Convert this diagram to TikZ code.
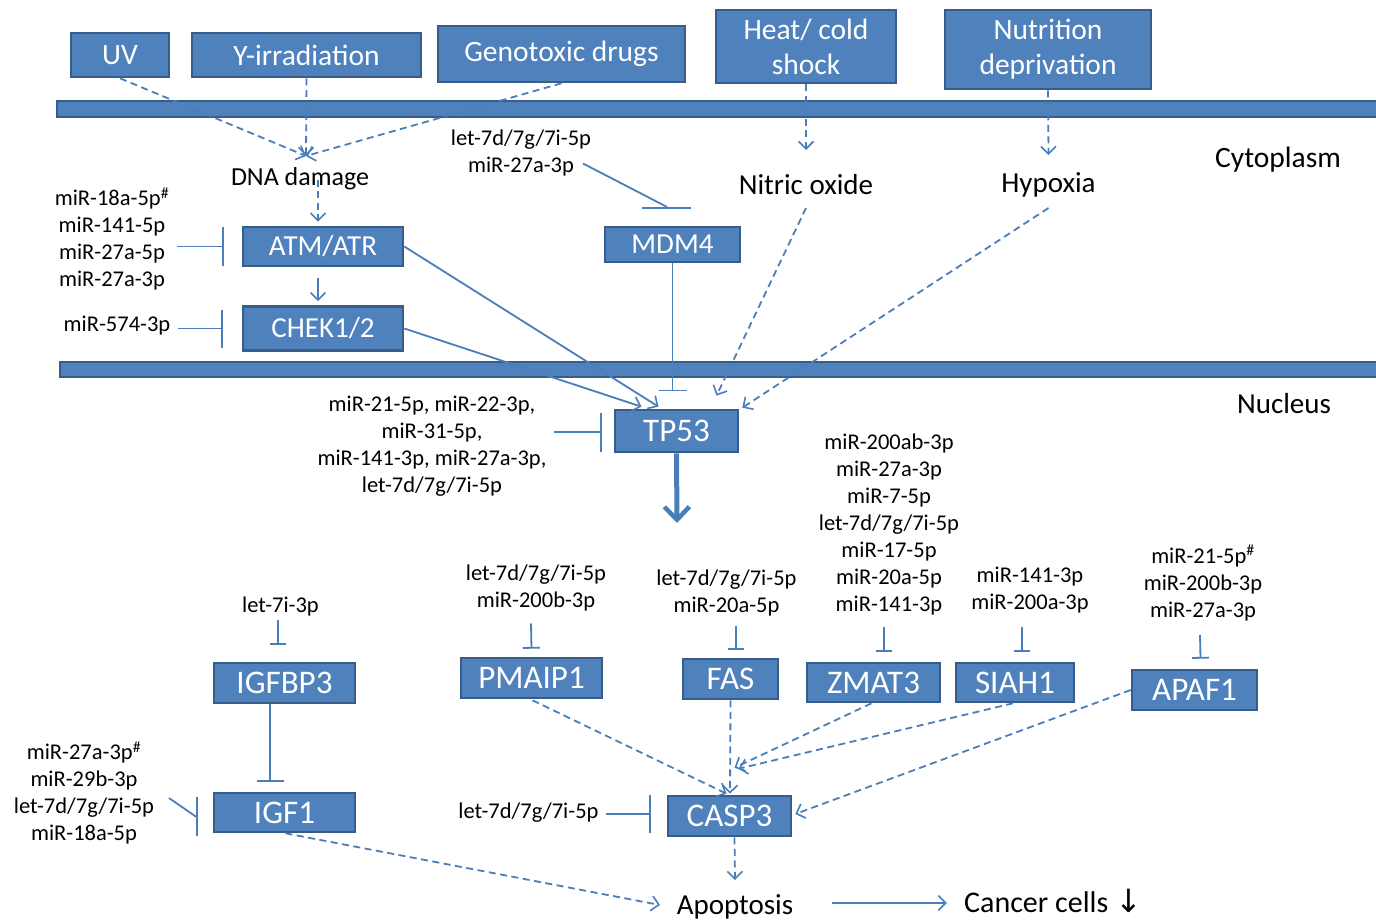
\documentclass[tikz,border=0pt]{standalone}
\usepackage{fontspec}
\setmainfont{Carlito}
\newfontfamily\symfont{DejaVu Sans}
\usetikzlibrary{arrows.meta,calc}
\definecolor{boxfill}{HTML}{4F81BD}
\definecolor{boxedge}{HTML}{385D8A}
\definecolor{link}{HTML}{4A7EBB}
\newcommand\fntTop{\fontsize{29.5}{35}\selectfont}
\newcommand\fntMid{\fontsize{29}{34}\selectfont}
\newcommand\fntGene{\fontsize{33}{38}\selectfont}
\newcommand\fntMir{\fontsize{22.5}{27}\selectfont}
\newcommand\fntLab{\fontsize{29}{34}\selectfont}

\begin{document}
\begin{tikzpicture}[x=1pt,y=-1pt,
  gene/.style={draw=boxedge, fill=boxfill, line width=2.6pt, text=white,
    inner sep=0pt, align=center},
  membrane/.style={draw=boxedge, fill=boxfill, line width=2.4pt},
  lbl/.style={inner sep=1pt, align=center, font=\fntMir},
  big/.style={inner sep=1pt, align=center, font=\fntLab},
  conn/.style={draw=link, line width=1.8pt},
  arr/.style={conn, -{Straight Barb[length=7.5pt,width=15pt,line width=1.6pt]}},
  darr/.style={arr, dash pattern=on 7pt off 4.5pt},
  inh/.style={conn, -{Bar[width=#1,line width=1.8pt]}},
  bigarr/.style={draw=link, line width=5pt, -{Straight Barb[length=13pt,width=25pt,line width=4.5pt]}}
]
\useasboundingbox (0,0) rectangle (1376,920);
\clip (0,0) rectangle (1376,920);

% cell membrane and nuclear envelope
\draw[membrane] (57,101) rectangle (1385,117);
\draw[membrane] (60,362) rectangle (1385,377);

% stress signals
\node[gene, font=\fntTop, minimum width=98pt, minimum height=44pt] (uv) at (120,55) {UV};
\node[gene, font=\fntTop, minimum width=229pt, minimum height=44pt] (yirr) at (306.5,55) {Y-irradiation};
\node[gene, font=\fntTop, minimum width=247pt, minimum height=56pt] (geno) at (561.5,54) {Genotoxic drugs};
\node[gene, font=\fntTop, minimum width=180pt, minimum height=73pt] (heat) at (806,46.5) {Heat/ cold\\shock};
\node[gene, font=\fntTop, minimum width=206pt, minimum height=79pt] (nutr) at (1048,49.5) {Nutrition\\deprivation};

% compartment and state labels
\node[big, font=\fontsize{26}{31}\selectfont] (dna) at (300,179) {DNA damage};
\node[big] (nitric) at (806,185) {Nitric oxide};
\node[big] (hypoxia) at (1048.5,185) {Hypoxia};
\node[big, font=\fontsize{29.5}{35}\selectfont] (cyto) at (1278,160) {Cytoplasm};
\node[big] (nucleus) at (1284,404) {Nucleus};

% upstream kinases and p53 regulators
\node[gene, font=\fntMid, minimum width=160pt, minimum height=39pt] (atm) at (323,246.5) {ATM/ATR};
\node[gene, font=\fntMid, minimum width=135pt, minimum height=35pt] (mdm4) at (672.5,244.5) {MDM4};
\node[gene, font=\fntMid, minimum width=160pt, minimum height=44pt] (chek) at (323,328.5) {CHEK1/2};
\node[gene, font=\fntGene, minimum width=123pt, minimum height=42pt] (tp53) at (676.5,431) {TP53};

% p53 targets
\node[gene, font=\fntGene, minimum width=141pt, minimum height=40pt] (igfbp3) at (284.5,683) {IGFBP3};
\node[gene, font=\fntGene, minimum width=141pt, minimum height=39pt] (igf1) at (284.5,812.5) {IGF1};
\node[gene, font=\fntGene, minimum width=141pt, minimum height=40pt] (pmaip1) at (531.5,678) {PMAIP1};
\node[gene, font=\fntGene, minimum width=95pt, minimum height=40pt] (fas) at (730.5,679) {FAS};
\node[gene, font=\fntGene, minimum width=133pt, minimum height=39pt] (zmat3) at (873.5,682.5) {ZMAT3};
\node[gene, font=\fntGene, minimum width=118pt, minimum height=39pt] (siah1) at (1015,682.5) {SIAH1};
\node[gene, font=\fntGene, minimum width=125pt, minimum height=40pt] (apaf1) at (1194.5,690) {APAF1};
\node[gene, font=\fntGene, minimum width=123pt, minimum height=40pt] (casp3) at (729.5,816) {CASP3};

\node[big] (apoptosis) at (735,907) {Apoptosis};
\node[big, font=\fontsize{30}{35}\selectfont] (cancer) at (1053,901) {Cancer cells {\symfont\fontsize{32}{36}\selectfont ↓}};

% microRNA groups
\node[lbl] (atmmir) at (112,239) {miR-18a-5p\textsuperscript{\#}\\miR-141-5p\\miR-27a-5p\\miR-27a-3p};
\node[lbl] (chekmir) at (117,326) {miR-574-3p};
\node[lbl] (mdmmir) at (521,153) {let-7d/7g/7i-5p\\miR-27a-3p};
\node[lbl] (tpmir) at (432,446) {miR-21-5p, miR-22-3p,\\miR-31-5p,\\miR-141-3p, miR-27a-3p,\\let-7d/7g/7i-5p};
\node[lbl] (igfbpmir) at (280.5,606) {let-7i-3p};
\node[lbl] (pmaipmir) at (536,587.5) {let-7d/7g/7i-5p\\miR-200b-3p};
\node[lbl] (fasmir) at (726.5,592.5) {let-7d/7g/7i-5p\\miR-20a-5p};
\node[lbl] (zmatmir) at (889,524) {miR-200ab-3p\\miR-27a-3p\\miR-7-5p\\let-7d/7g/7i-5p\\miR-17-5p\\miR-20a-5p\\miR-141-3p};
\node[lbl] (siahmir) at (1030,590) {miR-141-3p\\miR-200a-3p};
\node[lbl] (apafmir) at (1203,583) {miR-21-5p\textsuperscript{\#}\\miR-200b-3p\\miR-27a-3p};
\node[lbl] (igf1mir) at (84,793) {miR-27a-3p\textsuperscript{\#}\\miR-29b-3p\\let-7d/7g/7i-5p\\miR-18a-5p};
\node[lbl] (caspmir) at (528.5,813) {let-7d/7g/7i-5p};

% stress to DNA damage, nitric oxide and hypoxia
\coordinate (dmgtip) at (306,156);
\draw[darr] (uv.south) -- (dmgtip);
\draw[darr] (yirr.south) -- (dmgtip);
\draw[darr] (geno.south) -- (dmgtip);
\draw[darr] (heat.south) -- ($(nitric.center)+(0,-35)$);
\draw[darr] (nutr.south) -- ($(hypoxia.center)+(0,-30)$);

% DNA damage response
\draw[darr] ($(dna.center)+(18,1)$) -- ($(atm.north)+(-5,-4)$);
\draw[arr] ($(atm.south)+(-5,11)$) -- ($(chek.north)+(-5,-4)$);
\draw[arr] (atm.east) -- ($(tp53.north)+(-18,-2)$);
\draw[arr] (chek.east) -- ($(tp53.north)+(-35,-2)$);
\draw[darr] ($(nitric.center)+(0,23)$) -- ($(tp53.north)+(40,-13)$);
\draw[darr] ($(hypoxia.center)+(0,23)$) -- ($(tp53.north east)+(3,-1)$);
\draw[inh=28pt] (mdm4.south) -- ($(mdm4.south)+(0,128)$);
\draw[inh=49pt] ($(mdmmir.center)+(62,10.5)$) -- ($(mdm4.north)+(-6,-19)$) -- ($(mdm4.north)+(-6,-17)$);

% microRNA inhibition upstream
\draw[inh=38pt] ($(atmmir.east |- atm.west)+(7,0)$) -- ($(atm.west)+(-18,0)$);
\draw[inh=38pt] ($(chekmir.east |- chek.west)+(7,0)$) -- ($(chek.west)+(-19,0)$);
\draw[inh=39pt] ($(tpmir.east |- tp53.west)+(6,1)$) -- ($(tp53.west)+(-12,1)$);

% p53 output
\coordinate (tpout) at (677,523);
\draw[bigarr] (tp53.south) -- (tpout);

% microRNA inhibition of targets
\draw[inh=16pt] ($(igfbpmir.center)+(-2.5,14)$) -- ($(igfbp3.north)+(-6.5,-17)$);
\draw[inh=27pt] ($(igfbp3.south)+(-14.5,0)$) -- ($(igf1.north)+(-14.5,-10)$);
\draw[inh=39pt] ($(igf1mir.center)+(85,5)$) -- ($(igf1.west)+(-17,4)$) -- ($(igf1.west)+(-15,4)$);
\draw[inh=17pt] ($(pmaipmir.center)+(-5,36)$) -- ($(pmaip1.north)+(0,-8)$);
\draw[inh=16pt] ($(fasmir.center)+(9.5,33)$) -- ($(fas.north)+(5.5,-8)$);
\draw[inh=16pt] ($(zmatmir.center)+(-5,103)$) -- ($(zmat3.north)+(10.5,-10)$);
\draw[inh=16pt] ($(siahmir.center)+(-8,37)$) -- ($(siah1.north)+(7,-10)$);
\draw[inh=17pt] ($(apafmir.center)+(-3,52)$) -- ($(apaf1.north)+(6,-10)$);
\draw[inh=38pt] ($(caspmir.east |- casp3.west)+(6,-2)$) -- ($(casp3.west)+(-16,-2)$);

% apoptotic execution
\draw[darr] ($(pmaip1.south)+(1,1)$) -- ($(casp3.north)+(-3,-1)$);
\draw[darr] (fas.south) -- ($(casp3.north)+(0.5,-1)$);
\draw[darr] ($(zmat3.south)+(-2,0)$) -- ($(casp3.north)+(5,-27)$);
\draw[darr] ($(siah1.south)+(-2,0)$) -- ($(casp3.north)+(9,-26)$);
\draw[darr] (apaf1.west) -- ($(casp3.east)+(3,-2)$);
\draw[darr] ($(casp3.south)+(5,0)$) -- ($(apoptosis.center)+(0,-27)$);
\draw[darr] ($(igf1.south)+(1,0)$) -- ($(apoptosis.center)+(-75,-2)$);
\draw[arr] ($(apoptosis.center)+(97,-4)$) -- ($(cancer.west)+(-16,2)$);
\end{tikzpicture}
\end{document}
